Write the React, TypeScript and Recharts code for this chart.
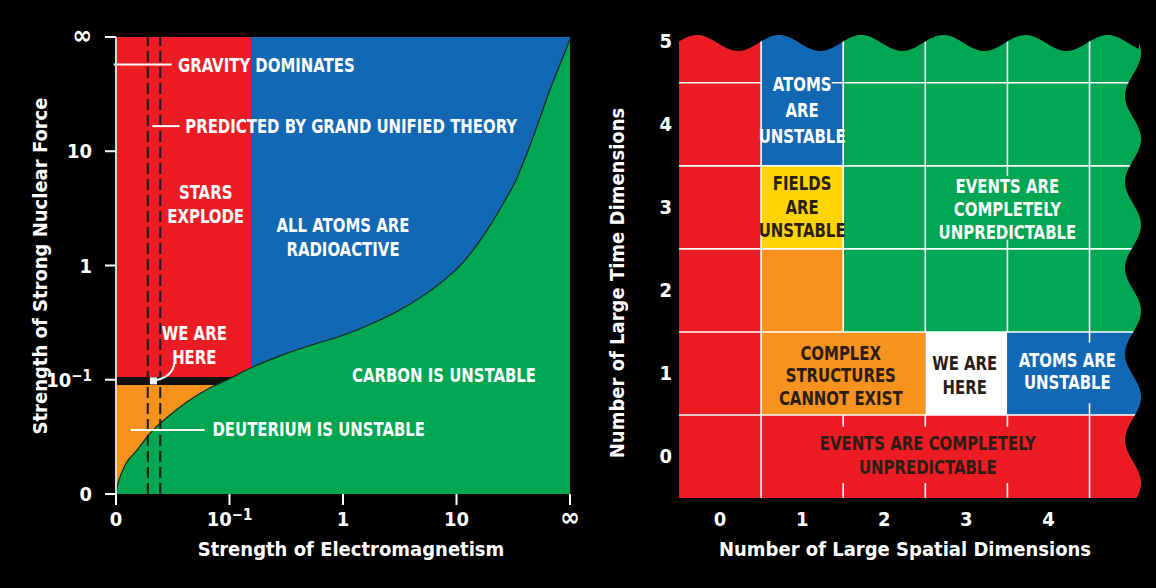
import React from "react"
import { Area, ComposedChart, ReferenceArea, ReferenceDot, ReferenceLine, XAxis, YAxis } from "recharts"

// ---------- left panel: strength of forces ----------
const strengthTicks = [0, 1, 2, 3, 4]
const strengthLabels = ["0", "10⁻¹", "1", "10", "∞"]

// boundary below which carbon is unstable
const emStrength = [0, 0.01, 0.06, 0.19, 0.3, 0.45, 0.63, 0.83, 0.98, 1.18, 1.42, 1.71, 2.0, 2.18, 2.48, 2.77, 3.06, 3.27, 3.41, 3.53, 3.62, 3.71, 3.82, 3.94, 4]
const carbonLimit = [0, 0.06, 0.21, 0.39, 0.53, 0.67, 0.81, 0.93, 1.0, 1.1, 1.2, 1.3, 1.39, 1.46, 1.6, 1.78, 2.03, 2.31, 2.54, 2.76, 2.98, 3.22, 3.53, 3.83, 3.98]

const forceRegions = [
  { x1: 0, x2: 1.19, y1: 1.0, y2: 4, kind: "red" },
  { x1: 1.19, x2: 4, y1: 0, y2: 4, kind: "blue" },
  { x1: 0, x2: 1.19, y1: 0, y2: 1.0, kind: "orange" },
  { x1: 0, x2: 1.02, y1: 0.955, y2: 1.025, kind: "black" },
]

const gutLines = [0.28, 0.39]

const forceLeaders = [
  { x1: -0.02, x2: 0.49, y: 3.76 },
  { x1: 0.32, x2: 0.56, y: 3.22 },
  { x1: 0.13, x2: 0.78, y: 0.56 },
]

const forceNotes = [
  { x: 0.546, y: 3.76, lines: ["GRAVITY DOMINATES"], align: "start", tone: "light" },
  { x: 0.61, y: 3.22, lines: ["PREDICTED BY GRAND UNIFIED THEORY"], align: "start", tone: "light" },
  { x: 0.79, y: 2.54, lines: ["STARS", "EXPLODE"], align: "middle", tone: "light" },
  { x: 2.0, y: 2.25, lines: ["ALL ATOMS ARE", "RADIOACTIVE"], align: "middle", tone: "light" },
  { x: 0.69, y: 1.31, lines: ["WE ARE", "HERE"], align: "middle", tone: "light" },
  { x: 2.89, y: 1.04, lines: ["CARBON IS UNSTABLE"], align: "middle", tone: "light" },
  { x: 0.85, y: 0.57, lines: ["DEUTERIUM IS UNSTABLE"], align: "start", tone: "light" },
]

const ourUniverse = { x: 0.33, y: 0.99 }

// ---------- right panel: dimensions ----------
const spatialDims = [0, 1, 2, 3, 4]
const timeDims = [0, 1, 2, 3, 4, 5]
const spatialDomain = [-0.5, 5.2]
const timeDomain = [-0.5, 5.1]

const dimCells = [
  { x1: -0.5, x2: 0.5, y1: -0.5, y2: 5.1, kind: "red" },
  { x1: 0.5, x2: 5.2, y1: -0.5, y2: 0.5, kind: "red" },
  { x1: 0.5, x2: 2.5, y1: 0.5, y2: 1.5, kind: "orange" },
  { x1: 0.5, x2: 1.5, y1: 1.5, y2: 2.5, kind: "orange" },
  { x1: 0.5, x2: 1.5, y1: 2.5, y2: 3.5, kind: "yellow" },
  { x1: 0.5, x2: 1.5, y1: 3.5, y2: 5.1, kind: "blue" },
  { x1: 2.5, x2: 3.5, y1: 0.5, y2: 1.5, kind: "white" },
  { x1: 3.5, x2: 5.2, y1: 0.5, y2: 1.5, kind: "blue" },
  { x1: 1.5, x2: 5.2, y1: 1.5, y2: 5.1, kind: "green" },
]

const gridRows = [
  { y: 0.5, from: -0.5, to: 5.2 },
  { y: 1.5, from: -0.5, to: 5.2 },
  { y: 2.5, from: -0.5, to: 5.2 },
  { y: 3.5, from: -0.5, to: 5.2 },
  { y: 4.5, from: -0.5, to: 0.5 },
  { y: 4.5, from: 1.36, to: 5.2 },
]

const gridCols = [
  { x: 0.5, from: -0.5, to: 5.1 },
  { x: 1.5, from: 1.5, to: 5.1 },
  { x: 1.5, from: 0.36, to: 0.5 },
  { x: 1.5, from: -0.5, to: -0.32 },
  { x: 2.5, from: 1.5, to: 5.1 },
  { x: 2.5, from: 0.36, to: 0.5 },
  { x: 2.5, from: -0.5, to: -0.32 },
  { x: 3.5, from: 3.38, to: 5.1 },
  { x: 3.5, from: 1.5, to: 2.61 },
  { x: 3.5, from: 0.36, to: 0.5 },
  { x: 3.5, from: -0.5, to: -0.32 },
  { x: 4.5, from: 1.37, to: 5.1 },
  { x: 4.5, from: -0.5, to: 0.64 },
]

const dimNotes = [
  { x: 1, y: 4.18, lines: ["ATOMS", "ARE", "UNSTABLE"], tone: "light", gap: 26 },
  { x: 1, y: 3.01, lines: ["FIELDS", "ARE", "UNSTABLE"], tone: "dark", gap: 23.5 },
  { x: 3.5, y: 2.98, lines: ["EVENTS ARE", "COMPLETELY", "UNPREDICTABLE"], tone: "light", gap: 23 },
  { x: 1.47, y: 0.98, lines: ["COMPLEX", "STRUCTURES", "CANNOT EXIST"], tone: "dark", gap: 22.5 },
  { x: 2.98, y: 0.98, lines: ["WE ARE", "HERE"], tone: "dark", gap: 24 },
  { x: 4.23, y: 1.03, lines: ["ATOMS ARE", "UNSTABLE"], tone: "light", gap: 22 },
  { x: 2.53, y: 0.02, lines: ["EVENTS ARE COMPLETELY", "UNPREDICTABLE"], tone: "dark", gap: 24 },
]

const palette: Record<string, string> = {
  red: "#ED1C24",
  blue: "#1268B3",
  green: "#00A651",
  orange: "#F7921E",
  yellow: "#FFD400",
  white: "#FFFFFF",
  black: "#111111",
  light: "#FFFFFF",
  dark: "#2B1D14",
}

const NOTE_FONT = "'Liberation Sans Narrow', 'DejaVu Sans Condensed', sans-serif"
const AXIS_FONT = "'DejaVu Sans Condensed', 'DejaVu Sans', sans-serif"
const NOTE_SQUEEZE = 0.83

function NoteText({ cx, cy, lines, align = "middle", color = "#fff", size = 20, gap = 24 }: any) {
  if (cx == null || cy == null) return null
  const top = cy - ((lines.length - 1) * gap) / 2
  // the original lettering is a very narrow face, so squeeze horizontally around the anchor
  return (
    <text
      transform={`matrix(${NOTE_SQUEEZE} 0 0 1 ${cx * (1 - NOTE_SQUEEZE)} 0)`}
      textAnchor={align}
      fill={color}
      fontFamily={NOTE_FONT}
      fontWeight="bold"
      fontSize={size}
    >
      {lines.map((l: string, i: number) => (
        <tspan key={i} x={cx} y={top + i * gap} dy="0.36em">
          {l}
        </tspan>
      ))}
    </text>
  )
}

function HereMarker({ cx, cy }: any) {
  if (cx == null || cy == null) return null
  return (
    <g>
      <path d={`M${cx + 3},${cy - 1} Q${cx + 19},${cy - 4} ${cx + 21},${cy - 18}`} stroke="#fff" strokeWidth={2} fill="none" />
      <rect x={cx - 3.5} y={cy - 3.5} width={7} height={7} fill="#fff" />
    </g>
  )
}

function WaveMask({ x, y, width, height }: any) {
  if (x == null) return null
  const colW = width / (spatialDomain[1] - spatialDomain[0])
  const xr = x + width
  const yb = y + height
  const topAt = (px: number) => y + 10 - 8 * Math.cos((2 * Math.PI * (px - x - 18)) / colW)
  const rightAt = (py: number) => xr - 14 + 8 * Math.cos((2 * Math.PI * (py - yb + 15)) / 86)
  let d = `M${x},${y - 4} L${xr + 4},${y - 4} L${xr + 4},${yb + 1} `
  for (let py = yb + 1; py >= y + 10; py -= 2) d += `L${rightAt(py)},${py} `
  for (let px = rightAt(y + 10); px >= x; px -= 2) d += `L${px},${topAt(px)} `
  d += `L${x},${topAt(x)} Z`
  return <path d={d} fill="#000" />
}

function TickText({ x, y, label, anchor, dy }: any) {
  if (label === "10⁻¹") {
    return (
      <text x={x} y={y + dy} textAnchor={anchor} fill="#fff" fontFamily={AXIS_FONT} fontWeight="bold" fontSize={20}>
        <tspan>10</tspan>
        <tspan dy={-6} fontSize={15}>
          −1
        </tspan>
      </text>
    )
  }
  return (
    <text x={x} y={y + dy} textAnchor={anchor} fill="#fff" fontFamily={AXIS_FONT} fontWeight="bold" fontSize={label === "∞" ? 26 : 20}>
      {label}
    </text>
  )
}

function StrengthTickY({ x, y, payload }: any) {
  const label = strengthLabels[strengthTicks.indexOf(payload.value)]
  return <TickText x={x - 13} y={y} label={label} anchor="end" dy={7} />
}

function StrengthTickX({ x, y, payload }: any) {
  const label = strengthLabels[strengthTicks.indexOf(payload.value)]
  return <TickText x={x} y={y} label={label} anchor="middle" dy={21} />
}

function DimTickY({ x, y, payload }: any) {
  return (
    <text x={x - 7} y={y + 7} textAnchor="end" fill="#fff" fontFamily={AXIS_FONT} fontWeight="bold" fontSize={20}>
      {payload.value}
    </text>
  )
}

function DimTickX({ x, y, payload }: any) {
  return (
    <text x={x} y={y + 28} textAnchor="middle" fill="#fff" fontFamily={AXIS_FONT} fontWeight="bold" fontSize={20}>
      {payload.value}
    </text>
  )
}

function AxisTitle({ text, left, top, vertical }: any) {
  return (
    <div
      style={{
        position: "absolute",
        left,
        top,
        transform: `translate(-50%, -50%)${vertical ? " rotate(-90deg)" : ""}`,
        whiteSpace: "nowrap",
        color: "#fff",
        fontFamily: AXIS_FONT,
        fontWeight: "bold",
        fontSize: 20,
        lineHeight: "24px",
      }}
    >
      {text}
    </div>
  )
}

function ForcesChart() {
  const data = emStrength.map((em, i) => ({ em, limit: carbonLimit[i] }))
  return (
    <ComposedChart width={600} height={588} data={data} margin={{ top: 37, right: 30, bottom: 0, left: 0 }}>
      <XAxis
        dataKey="em"
        type="number"
        domain={[0, 4]}
        ticks={strengthTicks}
        allowDataOverflow
        height={94}
        axisLine={false}
        tickLine={{ stroke: "#fff", strokeWidth: 2 }}
        tickSize={11}
        tickMargin={0}
        tick={<StrengthTickX />}
        interval={0}
      />
      <YAxis
        type="number"
        domain={[0, 4]}
        ticks={strengthTicks}
        allowDataOverflow
        width={116}
        axisLine={{ stroke: "#d8d8d8", strokeWidth: 2 }}
        tickLine={{ stroke: "#fff", strokeWidth: 2 }}
        tickSize={11}
        tickMargin={0}
        tick={<StrengthTickY />}
        interval={0}
      />
      {forceRegions.map((r, i) => (
        <ReferenceArea
          key={`fr${i}`}
          x1={r.x1}
          x2={r.x2}
          y1={r.y1}
          y2={r.y2}
          fill={palette[r.kind]}
          fillOpacity={1}
          stroke="none"
          zIndex={1 + (r.kind === "black" ? 1 : 0)}
        />
      ))}
      <Area
        type="monotone"
        dataKey="limit"
        fill={palette.green}
        fillOpacity={1}
        stroke="#14261a"
        strokeWidth={1.2}
        isAnimationActive={false}
        dot={false}
        activeDot={false}
        zIndex={3}
      />
      {gutLines.map((x) => (
        <ReferenceLine key={`g${x}`} x={x} stroke="#1a1a1a" strokeWidth={2} strokeDasharray="11 5" zIndex={4} />
      ))}
      {forceLeaders.map((l, i) => (
        <ReferenceLine
          key={`l${i}`}
          segment={[
            { x: l.x1, y: l.y },
            { x: l.x2, y: l.y },
          ]}
          stroke="#fff"
          strokeWidth={2}
          ifOverflow="visible"
          zIndex={5}
        />
      ))}
      <ReferenceDot x={ourUniverse.x} y={ourUniverse.y} r={0} shape={(p: any) => <HereMarker cx={p.cx} cy={p.cy} />} zIndex={6} />
      {forceNotes.map((n, i) => (
        <ReferenceDot
          key={`n${i}`}
          x={n.x}
          y={n.y}
          r={0}
          zIndex={7}
          shape={(p: any) => <NoteText cx={p.cx} cy={p.cy} lines={n.lines} align={n.align} color={palette[n.tone]} gap={24} />}
        />
      ))}
    </ComposedChart>
  )
}

function DimensionsChart() {
  const data = spatialDims.map((s) => ({ s }))
  return (
    <ComposedChart width={566} height={588} data={data} margin={{ top: 33, right: 9, bottom: 0, left: 0 }}>
      <XAxis
        dataKey="s"
        type="number"
        domain={spatialDomain}
        ticks={spatialDims}
        allowDataOverflow
        height={90}
        axisLine={false}
        tickLine={false}
        tickSize={0}
        tickMargin={0}
        tick={<DimTickX />}
        interval={0}
      />
      <YAxis
        type="number"
        domain={timeDomain}
        ticks={timeDims}
        allowDataOverflow
        width={89}
        axisLine={false}
        tickLine={false}
        tickSize={0}
        tickMargin={0}
        tick={<DimTickY />}
        interval={0}
      />
      {dimCells.map((c, i) => (
        <ReferenceArea
          key={`c${i}`}
          x1={c.x1}
          x2={c.x2}
          y1={c.y1}
          y2={c.y2}
          fill={palette[c.kind]}
          fillOpacity={1}
          stroke="none"
          zIndex={1}
        />
      ))}
      {gridRows.map((g, i) => (
        <ReferenceLine
          key={`r${i}`}
          segment={[
            { x: g.from, y: g.y },
            { x: g.to, y: g.y },
          ]}
          stroke="#fff"
          strokeWidth={1.6}
          zIndex={2}
        />
      ))}
      {gridCols.map((g, i) => (
        <ReferenceLine
          key={`v${i}`}
          segment={[
            { x: g.x, y: g.from },
            { x: g.x, y: g.to },
          ]}
          stroke="#fff"
          strokeWidth={1.6}
          zIndex={2}
        />
      ))}
      <ReferenceArea
        x1={spatialDomain[0]}
        x2={spatialDomain[1]}
        y1={timeDomain[0]}
        y2={timeDomain[1]}
        shape={(p: any) => <WaveMask {...p} />}
        zIndex={3}
      />
      {dimNotes.map((n, i) => (
        <ReferenceDot
          key={`d${i}`}
          x={n.x}
          y={n.y}
          r={0}
          zIndex={4}
          shape={(p: any) => <NoteText cx={p.cx} cy={p.cy} lines={n.lines} align="middle" color={palette[n.tone]} gap={n.gap} />}
        />
      ))}
    </ComposedChart>
  )
}

export default function App() {
  return (
    <div style={{ position: "absolute", left: 0, top: 0, width: 1156, height: 588, background: "#000", overflow: "hidden" }}>
      <div style={{ position: "absolute", left: 0, top: 0 }}>
        <ForcesChart />
      </div>
      <div style={{ position: "absolute", left: 590, top: 0 }}>
        <DimensionsChart />
      </div>
      <AxisTitle text="Strength of Strong Nuclear Force" left={40} top={266} vertical />
      <AxisTitle text="Strength of Electromagnetism" left={351} top={549} />
      <AxisTitle text="Number of Large Time Dimensions" left={617} top={283} vertical />
      <AxisTitle text="Number of Large Spatial Dimensions" left={905} top={549} />
    </div>
  )
}
